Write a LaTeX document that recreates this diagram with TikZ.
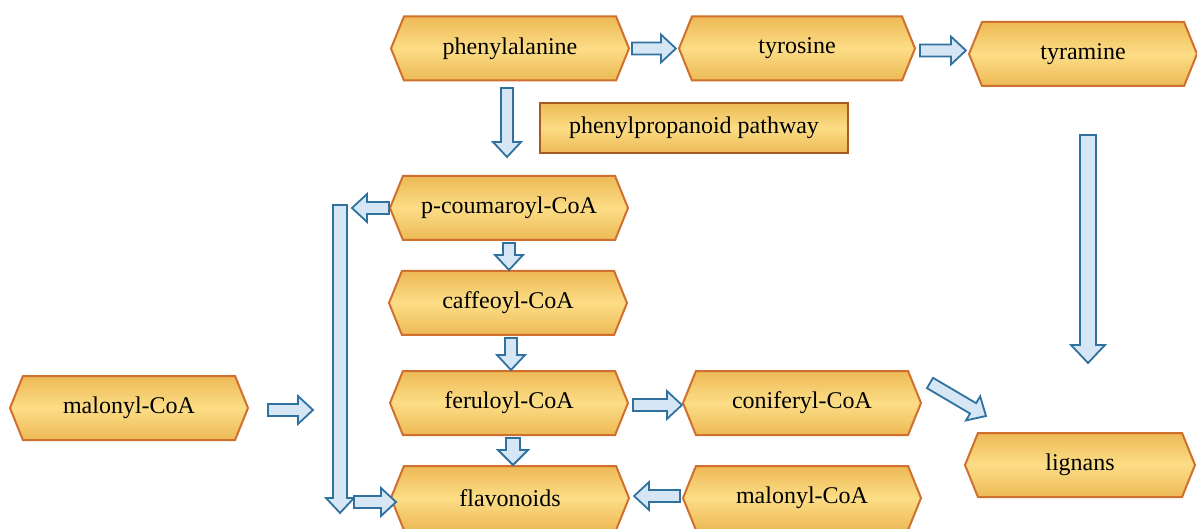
\documentclass[tikz,border=0pt]{standalone}
\usepackage{fontspec}
\setmainfont{Liberation Serif}
\usetikzlibrary{calc,shapes.symbols}
\definecolor{nodeborder}{HTML}{D0702E}
\definecolor{nodeedge}{HTML}{EDB955}
\definecolor{nodemid}{HTML}{FCDD86}
\definecolor{arrline}{HTML}{2F72A0}
\definecolor{arrfill}{HTML}{D6E6F4}
\tikzset{
  hexnode/.style={signal, signal to=east and west, signal pointer angle=136,
    minimum width=238pt, minimum height=64pt, inner sep=0pt,
    draw=nodeborder, line width=2pt,
    top color=nodeedge, bottom color=nodeedge, middle color=nodemid,
    font=\fontsize{24}{28}\selectfont, text=black},
  boxnode/.style={rectangle, minimum width=308pt, minimum height=50pt,
    draw=nodeborder!80!black, line width=2pt,
    top color=nodeedge, bottom color=nodeedge, middle color=nodemid,
    font=\fontsize{24}{28}\selectfont, text=black},
  blk/.style args={#1/#2/#3}{draw=arrline, fill=arrfill, line width=1.8pt, line join=miter,
    to path={($(\tikztotarget)!#3!(\tikztostart)$) coordinate (bb)
      ($(\tikztostart)!#1!90:(\tikztotarget)$)
      -- ($(bb)!#1!-90:(\tikztostart)$)
      -- ($(bb)!#2!-90:(\tikztostart)$)
      -- (\tikztotarget)
      -- ($(bb)!#2!90:(\tikztostart)$)
      -- ($(bb)!#1!90:(\tikztostart)$)
      -- ($(\tikztostart)!#1!-90:(\tikztotarget)$)
      -- cycle}},
  blkarrow/.style={blk=6pt/14pt/15pt},
  blkwide/.style={blk=8pt/17pt/18pt}
}
\begin{document}
\begin{tikzpicture}[x=1pt,y=-1pt]
\useasboundingbox (0,0) rectangle (1197,529);
% nodes
\node[hexnode] (pa) at (510,48.5) {phenylalanine};
\node[hexnode, minimum width=236pt] (ty) at (797,48.5) {tyrosine};
\node[hexnode, minimum width=228pt] (tm) at (1083,54) {tyramine};
\node[boxnode] (pp) at (694,128) {phenylpropanoid pathway};
\node[hexnode] (pc) at (509,208) {p-coumaroyl-CoA};
\node[hexnode] (cf) at (508,303) {caffeoyl-CoA};
\node[hexnode] (fe) at (509,403) {feruloyl-CoA};
\node[hexnode] (fl) at (510,498) {flavonoids};
\node[hexnode] (ml) at (129,408) {malonyl-CoA};
\node[hexnode] (co) at (802,403) {coniferyl-CoA};
\node[hexnode] (mr) at (802,498) {malonyl-CoA};
\node[hexnode, minimum width=230pt] (lg) at (1080,465) {lignans};
% free ends
\coordinate (paS) at (507,88);
\coordinate (pcN) at (507,157);
\coordinate (pcL) at (352,208);
\coordinate (barT) at (340,205);
\coordinate (barB) at (340,513);
\coordinate (barR) at (354,502);
\coordinate (flL) at (396,502);
\coordinate (mlE) at (268,410);
\coordinate (mlT) at (313,410);
\coordinate (coE) at (930,383);
\coordinate (lgN) at (986,416);
\coordinate (tmS) at (1088,135);
\coordinate (lgT) at (1088,363);
% connectors
\draw[blkarrow] ([xshift=2pt]pa.east) to ([xshift=-2pt]ty.west);
\draw[blkarrow] ([xshift=4pt,yshift=-2pt]ty.east) to ([xshift=-2pt,yshift=-2pt]ty.east -| tm.west);
\draw[blkarrow] (paS) to (pcN);
\draw[blkarrow] (pc.west) to (pcL);
\draw[blk=7pt/14pt/15pt] (barT) to (barB);
\draw[blkarrow] (barR) to (flL);
\draw[blkarrow] ([yshift=-2pt]pc.south) to (pc.south |- cf.north);
\draw[blkarrow] ([xshift=3pt,yshift=-2pt]cf.south) to ([xshift=3pt]cf.south |- fe.north);
\draw[blk=7pt/15pt/15pt] ([xshift=4pt,yshift=-2pt]fe.south) to ([xshift=4pt]fe.south |- fl.north);
\draw[blkarrow] ([xshift=4pt,yshift=-2pt]fe.east) to ([yshift=-2pt]co.west);
\draw[blkarrow] ([xshift=-2pt,yshift=2pt]mr.west) to ([xshift=4pt,yshift=2pt]fl.east);
\draw[blkarrow] (mlE) to (mlT);
\draw[blkarrow] (coE) to (lgN);
\draw[blkwide] (tmS) to (lgT);
\end{tikzpicture}
\end{document}
